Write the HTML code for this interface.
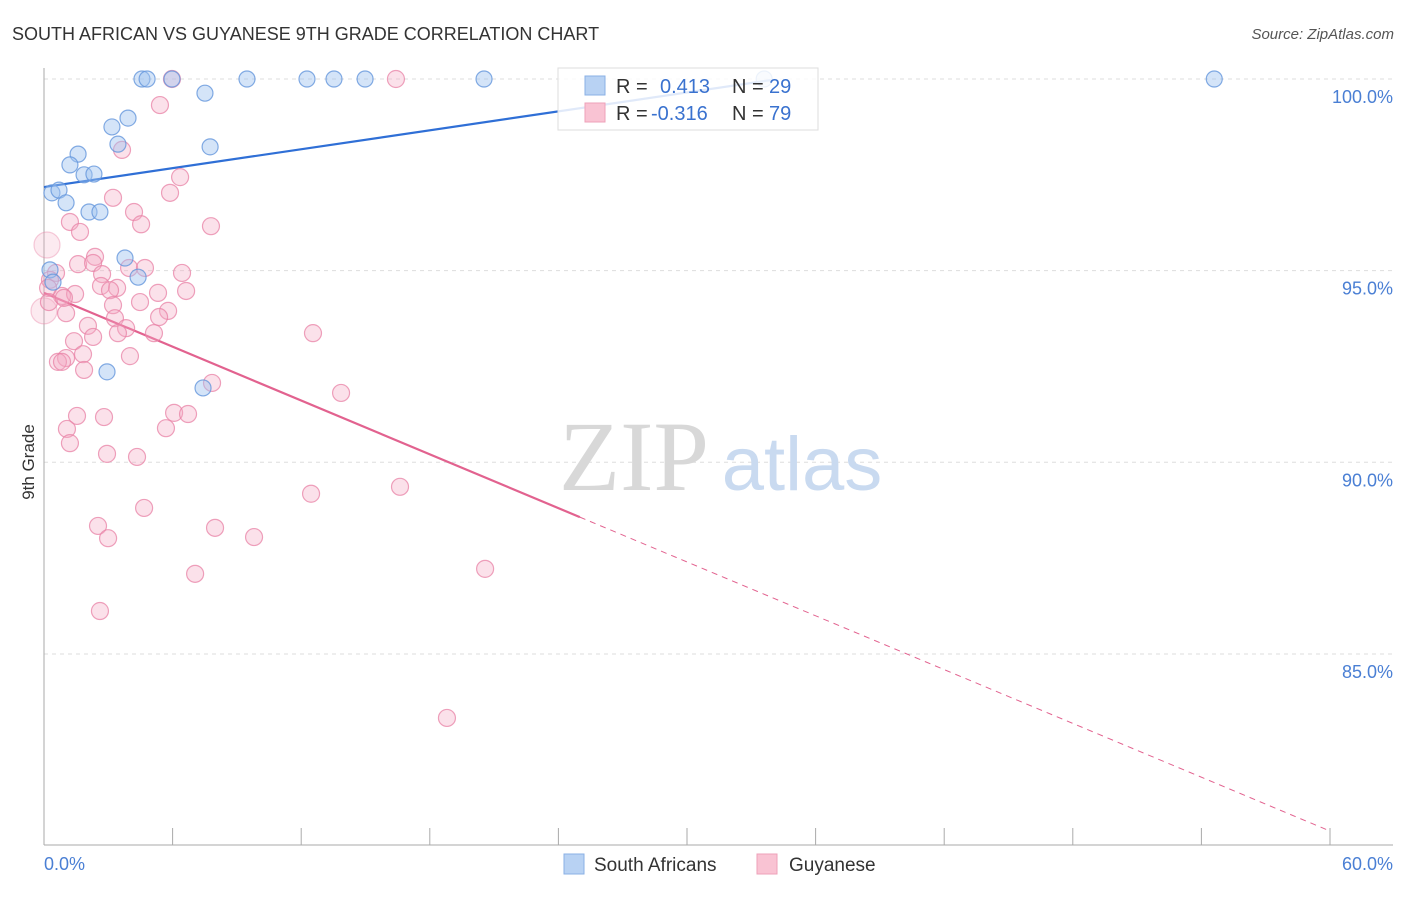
<!DOCTYPE html>
<html><head><meta charset="utf-8"><style>
body{margin:0;background:#fff;font-family:"Liberation Sans",sans-serif;}
svg text{font-family:"Liberation Sans",sans-serif;}
</style></head><body>
<svg id="chart" width="1406" height="892">
<text x="12" y="40" font-size="18" fill="#333">SOUTH AFRICAN VS GUYANESE 9TH GRADE CORRELATION CHART</text>
<text x="1394" y="39" font-size="15" fill="#555" font-style="italic" text-anchor="end">Source: ZipAtlas.com</text>
<g id="grid"></g>
<text x="634" y="490" font-size="100" fill="#d8d8d8" text-anchor="middle" style="font-family:'Liberation Serif',serif">ZIP</text>
<text x="802" y="490" font-size="76" fill="#c9daf0" text-anchor="middle">atlas</text>
<g id="lines"></g>
<g id="pts"></g>
<text transform="translate(34,462) rotate(-90)" font-size="17" fill="#333" text-anchor="middle">9th Grade</text>
<text x="44" y="870" font-size="18" fill="#4a7fd4">0.0%</text>
<text x="1393" y="870" font-size="18" fill="#4a7fd4" text-anchor="end">60.0%</text>
<g>
<rect x="558" y="68" width="260" height="62" fill="rgba(255,255,255,0.85)" stroke="#ddd"/>
<rect x="585" y="76" width="20" height="19" fill="#b8d2f3" stroke="#8ab0e6"/>
<rect x="585" y="103" width="20" height="19" fill="#f9c3d3" stroke="#eea0b8"/>
<text x="616" y="93" font-size="20" fill="#333">R =</text>
<text x="660" y="93" font-size="20" fill="#3a72cf">0.413</text>
<text x="732" y="93" font-size="20" fill="#333">N =</text>
<text x="769" y="93" font-size="20" fill="#3a72cf">29</text>
<text x="616" y="120" font-size="20" fill="#333">R =</text>
<text x="651" y="120" font-size="20" fill="#3a72cf">-0.316</text>
<text x="732" y="120" font-size="20" fill="#333">N =</text>
<text x="769" y="120" font-size="20" fill="#3a72cf">79</text>
</g>
<g>
<rect x="564" y="854" width="20" height="20" fill="#b8d2f3" stroke="#8ab0e6"/>
<text x="594" y="871" font-size="19" fill="#333">South Africans</text>
<rect x="757" y="854" width="20" height="20" fill="#f9c3d3" stroke="#eea0b8"/>
<text x="789" y="871" font-size="19" fill="#333">Guyanese</text>
</g>
</svg>
<script>
const yTicks=[100,95,90,85];
const xTickCount=10;
const blueX=[4.57,4.81,5.97,9.47,12.27,13.53,14.98,20.53,54.6,33.6,7.51,3.92,3.17,7.75,3.45,1.59,1.21,1.87,2.33,0.37,0.70,1.03,2.10,2.61,3.78,4.39,0.28,0.42,2.94,7.42];
const blueY=[100,100,100,100,100,100,100,100,100,100,99.63,98.98,98.75,98.23,98.30,98.04,97.76,97.50,97.52,97.03,97.10,96.77,96.53,96.53,95.33,94.83,95.02,94.70,92.36,91.94];
const pinkX=[5.97,16.42,5.41,3.64,6.35,3.22,5.88,4.20,4.53,1.21,1.68,7.79,0.14,1.59,2.38,2.29,3.97,4.71,6.44,2.71,0.56,0.28,0.19,2.66,3.41,3.08,5.32,6.63,0.84,1.45,4.48,3.22,1.03,5.79,5.37,3.31,2.05,3.83,5.13,3.45,2.29,12.55,1.40,1.82,4.01,1.03,0.65,0.84,1.87,7.84,13.86,1.54,2.80,6.07,6.72,1.07,5.69,1.21,2.94,4.34,12.46,16.61,4.67,2.52,7.98,2.99,9.80,7.05,20.58,2.61,18.80,0,0.23,0.93];
const pinkY=[100,100,99.32,98.15,97.44,96.90,97.03,96.53,96.21,96.27,96.01,96.16,95.67,95.17,95.36,95.20,95.07,95.07,94.94,94.91,94.94,94.76,94.55,94.60,94.55,94.49,94.42,94.47,94.34,94.39,94.18,94.10,93.89,93.95,93.79,93.76,93.56,93.50,93.37,93.37,93.27,93.37,93.16,92.82,92.77,92.72,92.62,92.62,92.41,92.07,91.81,91.21,91.18,91.29,91.26,90.87,90.89,90.50,90.22,90.14,89.18,89.36,88.81,88.34,88.29,88.02,88.05,87.09,87.22,86.12,83.33,93.95,94.18,94.29];
const pinkBig=[12,71];
const blueTrend=[[0,97.18],[33.9,99.97]];
const pinkTrend=[[0,94.42],[25,88.57],[60,80.38]];
const X0=44,X1=1330,Y100=79,PXPER=38.33;
const sx=v=>X0+(v/60)*(X1-X0);
const sy=v=>Y100+(100-v)*PXPER;
const NS='http://www.w3.org/2000/svg';
function mk(t,a,p){const e=document.createElementNS(NS,t);for(const k in a)e.setAttribute(k,a[k]);p.appendChild(e);return e;}
const g=document.getElementById('grid');
yTicks.forEach(t=>{
 const l=mk('line',{x1:X0,x2:1393,y1:sy(t),y2:sy(t),stroke:'#ddd','stroke-dasharray':'4,4'},g);
 
 
 const tx=mk('text',{x:1393,y:sy(t)+24,'font-size':18,fill:'#4a7fd4','text-anchor':'end'},g);
 tx.textContent=t.toFixed(1)+'%';
 
 
});
mk('line',{x1:X0,x2:X0,y1:68,y2:845,stroke:'#aaa'},g);
mk('line',{x1:X0,x2:1393,y1:845,y2:845,stroke:'#aaa'},g);
for(let i=0;i<=xTickCount;i++){const x=sx(i*60/xTickCount);const t=mk('line',{x1:x,x2:x,y1:828,y2:845,stroke:'#aaa'},g);
 
 }
const L=document.getElementById('lines');
const bl=mk('line',{x1:sx(blueTrend[0][0]),y1:sy(blueTrend[0][1]),x2:sx(blueTrend[1][0]),y2:sy(blueTrend[1][1]),stroke:'#2f6fd6','stroke-width':2.2},L);


const pl=mk('line',{x1:sx(pinkTrend[0][0]),y1:sy(pinkTrend[0][1]),x2:sx(pinkTrend[1][0]),y2:sy(pinkTrend[1][1]),stroke:'#e2628f','stroke-width':2.2},L);


const pd=mk('line',{x1:sx(pinkTrend[1][0]),y1:sy(pinkTrend[1][1]),x2:sx(pinkTrend[2][0]),y2:sy(pinkTrend[2][1]),stroke:'#e2628f','stroke-width':1,'stroke-dasharray':'6,5'},L);


const P=document.getElementById('pts');
pinkX.forEach((v,i)=>{const big=pinkBig.includes(i);const c=mk('circle',{cx:sx(v),cy:sy(pinkY[i]),r:big?13:8.5,fill:big?'rgba(244,170,195,0.25)':'rgba(244,170,195,0.35)',stroke:big?'rgba(232,130,165,0.4)':'rgba(232,130,165,0.75)','stroke-width':1.2},P);
 
 });
blueX.forEach((v,i)=>{const c=mk('circle',{cx:sx(v),cy:sy(blueY[i]),r:8,fill:'rgba(160,195,240,0.45)',stroke:'rgba(100,150,220,0.8)','stroke-width':1.2},P);
 
 });
</script>
</body></html>
